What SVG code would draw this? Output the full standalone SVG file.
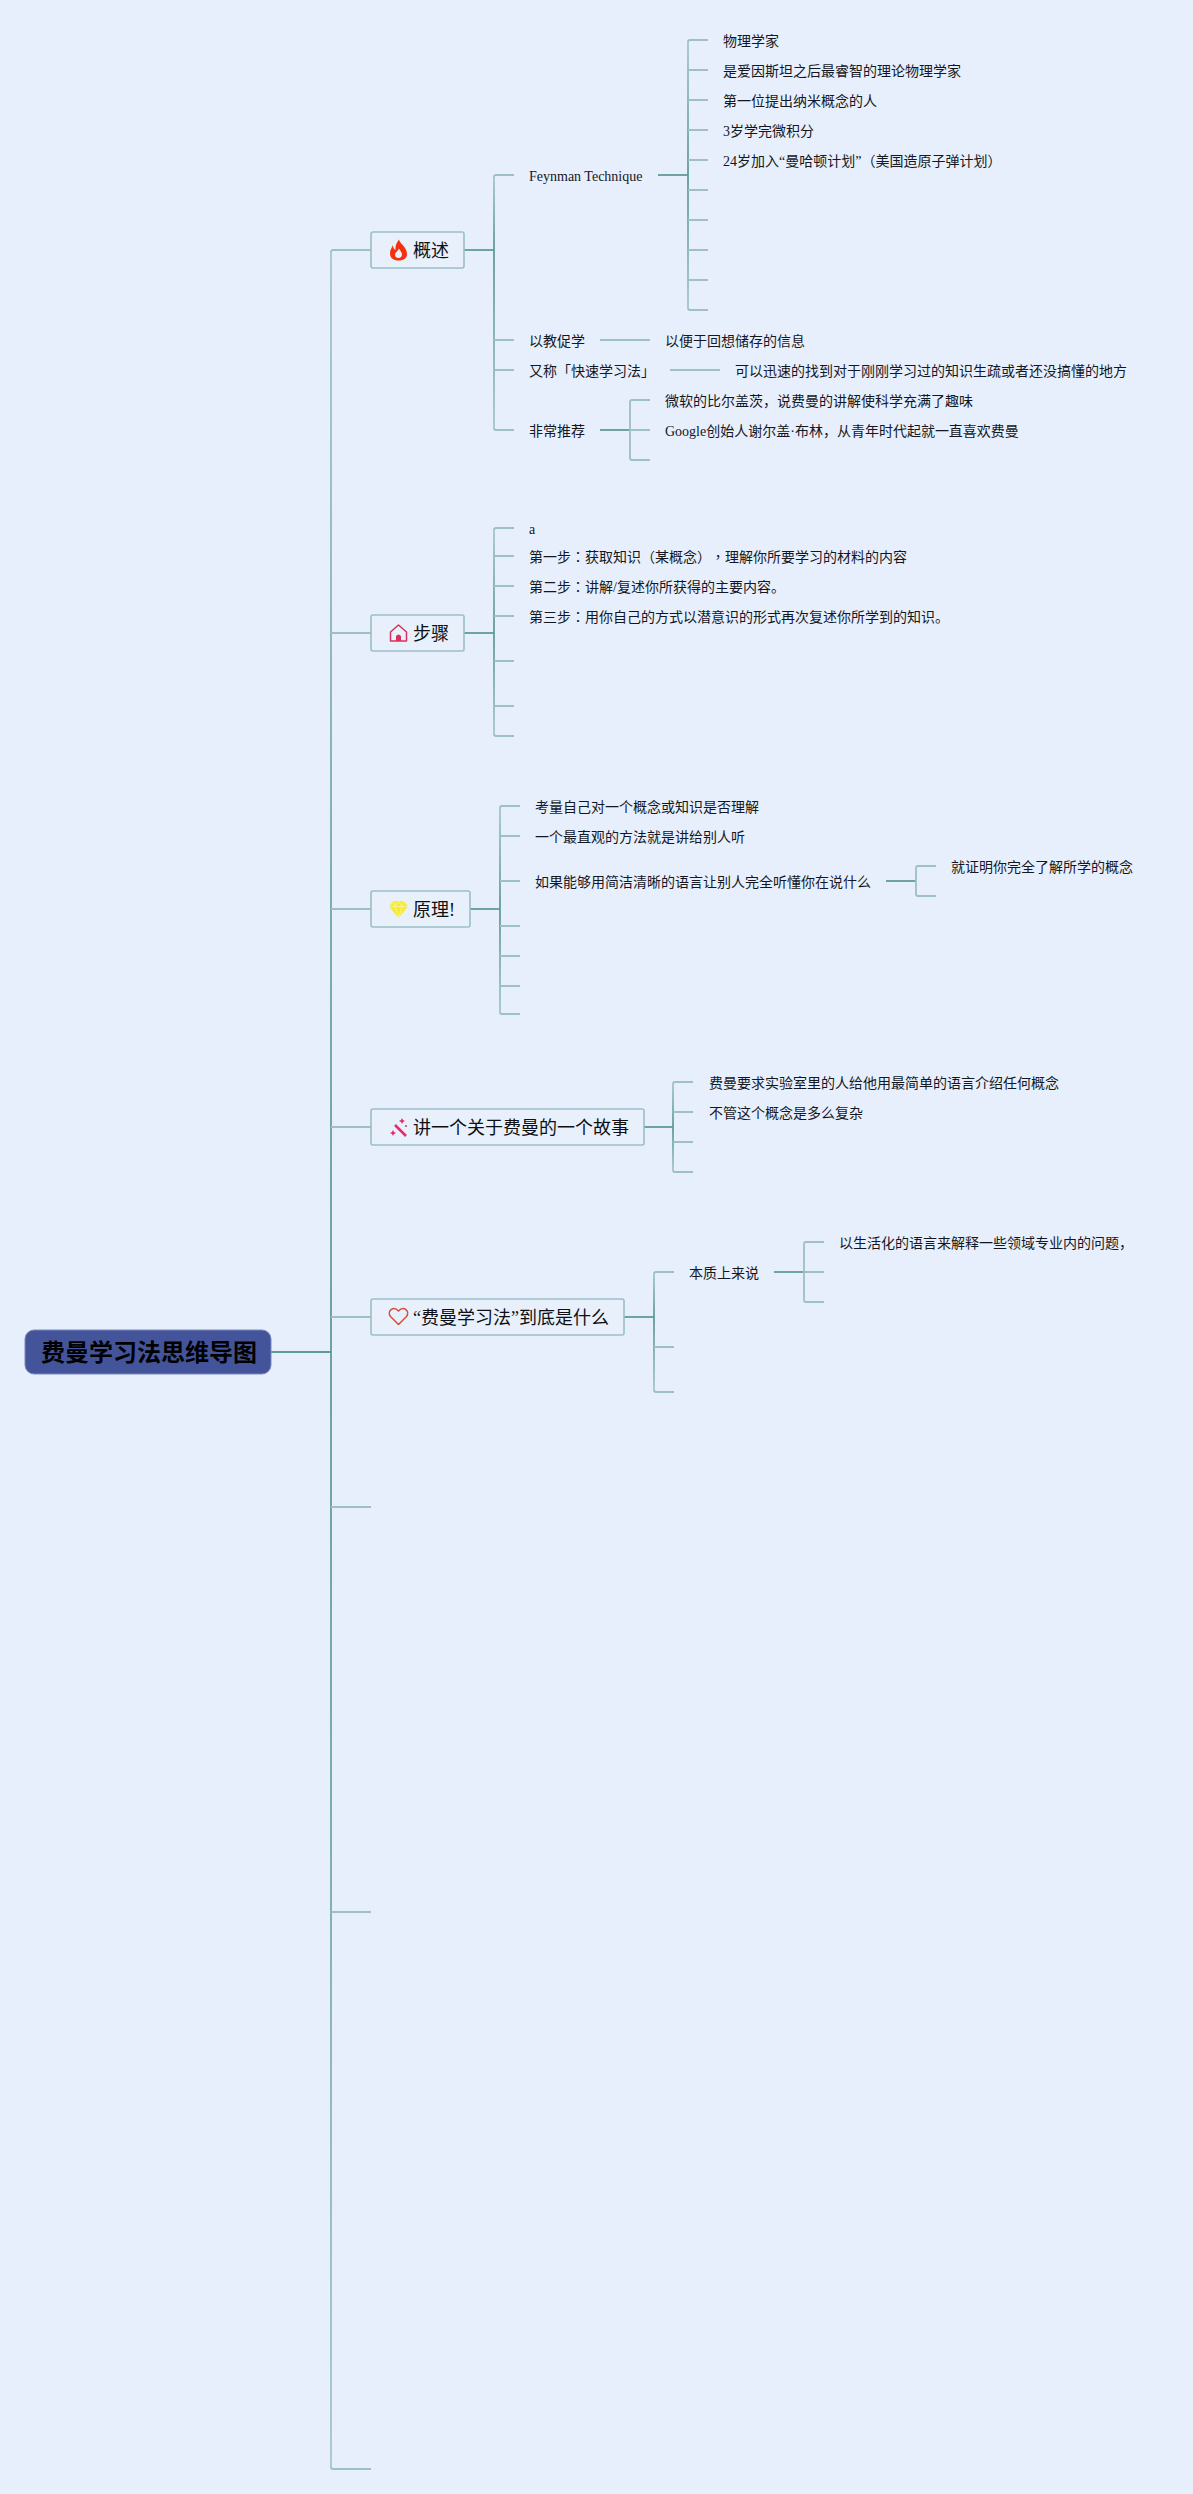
<svg xmlns="http://www.w3.org/2000/svg" width="1193" height="2494" viewBox="0 0 1193 2494">
<style>
text{font-family:"Liberation Serif","Noto Sans CJK SC",sans-serif;fill:#14171f;text-spacing-trim:space-all}
.l{font-size:14px}
.b{font-size:18px;fill:#0d0f14}
.r{font-size:24px;font-weight:700;fill:#000;font-family:"Liberation Sans","Noto Sans CJK SC",sans-serif}
.p{font-family:"Noto Sans CJK TC",sans-serif}
.s{fill:none;stroke:#9dbfc5;stroke-width:1.8}
.m{fill:none;stroke:#5f9a96;stroke-width:1.8}
.v{fill:none;stroke-width:1.8}
.box{fill:#e8f0fc;stroke:#9cbfc6;stroke-width:1.6}
</style>
<defs>
<linearGradient id="g0" gradientUnits="userSpaceOnUse" x1="0" x2="0" y1="250" y2="2469"><stop offset="0" stop-color="#a6c6cc"/><stop offset=".3" stop-color="#6ea6a3"/><stop offset=".4966" stop-color="#5f9a96"/><stop offset=".7" stop-color="#6ea6a3"/><stop offset="1" stop-color="#a6c6cc"/></linearGradient>
<linearGradient id="g1" gradientUnits="userSpaceOnUse" x1="0" x2="0" y1="175" y2="430"><stop offset="0" stop-color="#a6c6cc"/><stop offset=".29" stop-color="#5f9a96"/><stop offset="1" stop-color="#a6c6cc"/></linearGradient>
<linearGradient id="g2" gradientUnits="userSpaceOnUse" x1="0" x2="0" y1="40" y2="310"><stop offset="0" stop-color="#a6c6cc"/><stop offset=".5" stop-color="#5f9a96"/><stop offset="1" stop-color="#a6c6cc"/></linearGradient>
<linearGradient id="g3" gradientUnits="userSpaceOnUse" x1="0" x2="0" y1="528" y2="736"><stop offset="0" stop-color="#a6c6cc"/><stop offset=".5" stop-color="#5f9a96"/><stop offset="1" stop-color="#a6c6cc"/></linearGradient>
<linearGradient id="g4" gradientUnits="userSpaceOnUse" x1="0" x2="0" y1="806" y2="1014"><stop offset="0" stop-color="#a6c6cc"/><stop offset=".5" stop-color="#5f9a96"/><stop offset="1" stop-color="#a6c6cc"/></linearGradient>
<linearGradient id="g5" gradientUnits="userSpaceOnUse" x1="0" x2="0" y1="1082" y2="1172"><stop offset="0" stop-color="#a6c6cc"/><stop offset=".5" stop-color="#5f9a96"/><stop offset="1" stop-color="#a6c6cc"/></linearGradient>
<linearGradient id="g6" gradientUnits="userSpaceOnUse" x1="0" x2="0" y1="1272" y2="1392"><stop offset="0" stop-color="#a6c6cc"/><stop offset=".375" stop-color="#5f9a96"/><stop offset="1" stop-color="#a6c6cc"/></linearGradient>
</defs>
<rect width="1193" height="2494" fill="#e7effc"/>
<g id="connectors">
<path class="m" d="M271 1352H331"/>
<path class="v" stroke="url(#g0)" d="M331 252V2467"/>
<path class="s" d="M331 252Q331 250 333 250H371M331 633H371M331 909H371M331 1127H371M331 1317H371M331 1507H371M331 1912H371M331 2467Q331 2469 333 2469H371"/>
<path class="m" d="M464 250H494"/>
<path class="v" stroke="url(#g1)" d="M494 177V428"/>
<path class="s" d="M494 177Q494 175 496 175H514M494 340H514M494 370H514M494 428Q494 430 496 430H514"/>
<path class="m" d="M658 175H688"/>
<path class="v" stroke="url(#g2)" d="M688 42V308"/>
<path class="s" d="M688 42Q688 40 690 40H708M688 70H708M688 100H708M688 130H708M688 160H708M688 190H708M688 220H708M688 250H708M688 280H708M688 308Q688 310 690 310H708"/>
<path class="s" d="M600 340H650M670 370H720"/>
<path class="m" d="M600 430H630"/>
<path class="s" d="M650 400H632Q630 400 630 402V458Q630 460 632 460H650M630 430H650"/>
<path class="m" d="M464 633H494"/>
<path class="v" stroke="url(#g3)" d="M494 530V734"/>
<path class="s" d="M494 530Q494 528 496 528H514M494 556H514M494 586H514M494 616H514M494 661H514M494 706H514M494 734Q494 736 496 736H514"/>
<path class="m" d="M470 909H500"/>
<path class="v" stroke="url(#g4)" d="M500 808V1012"/>
<path class="s" d="M500 808Q500 806 502 806H520M500 836H520M500 881H520M500 926H520M500 956H520M500 986H520M500 1012Q500 1014 502 1014H520"/>
<path class="m" d="M886 881H916"/>
<path class="s" d="M936 866H918Q916 866 916 868V894Q916 896 918 896H936"/>
<path class="m" d="M644 1127H673"/>
<path class="v" stroke="url(#g5)" d="M673 1084V1170"/>
<path class="s" d="M673 1084Q673 1082 675 1082H693M673 1112H693M673 1142H693M673 1170Q673 1172 675 1172H693"/>
<path class="m" d="M624 1317H654"/>
<path class="v" stroke="url(#g6)" d="M654 1274V1390"/>
<path class="s" d="M654 1274Q654 1272 656 1272H674M654 1347H674M654 1390Q654 1392 656 1392H674"/>
<path class="m" d="M774 1272H804"/>
<path class="s" d="M824 1242H806Q804 1242 804 1244V1300Q804 1302 806 1302H824M804 1272H824"/>
</g>
<g id="root"><rect x="25" y="1330" width="246" height="44" rx="9" fill="#43549b" stroke="#7c89bc" stroke-width="1"/><text class="r" x="41" y="1361">费曼学习法思维导图</text></g>
<g id="n1"><rect class="box" x="371" y="232" width="93" height="36" rx="2"/>
<path d="M399 239.500C400 244 407 247 407 254C407 258 404 260.500 398.500 260.500C393 260.500 390 258 390 253C390 250 392 247 393 245C393 248 394 249 395.500 250C395 246 397 242 399 239.500ZM398.500 258C400.500 258 402 256.500 402 254.500C402 252.500 400 250.500 399 248.500C398 251 395 252.500 395 255C395 257 396.500 258 398.500 258Z" fill="#f5300e" fill-rule="evenodd"/>
<text class="b" x="413" y="257">概述</text></g>
<g id="n2"><rect class="box" x="371" y="615" width="93" height="36" rx="2"/>
<path d="M390.500 632L398.500 625L406.500 632V641H390.500Z" fill="none" stroke="#d8315b" stroke-width="1.500" stroke-linejoin="round"/><path d="M396 641V636Q398.500 633 401 636V641Z" fill="#d8315b"/>
<text class="b" x="413" y="640">步骤</text></g>
<g id="n3"><rect class="box" x="371" y="891" width="99" height="36" rx="2"/>
<path d="M393 901H404L408 906.500L398.500 918L389 906.500Z" fill="#f5ea3a"/><path d="M389 906.500H408M395 906.500L398.500 918L402 906.500M393 901L395 906.500L398.500 901L402 906.500L404 901" fill="none" stroke="#fbf6b0" stroke-width=".6"/>
<text class="b" x="413" y="916">原理!</text></g>
<g id="n4"><rect class="box" x="371" y="1109" width="273" height="36" rx="2"/>
<path d="M395 1125L406 1136" stroke="#e8286b" stroke-width="2.500" fill="none"/><path d="M402 1118l1 2l2 1l-2 1l-1 2l-1-2l-2-1l2-1ZM393 1130l1 2l2 1l-2 1l-1 2l-1-2l-2-1l2-1Z" fill="#e8286b"/><circle cx="406" cy="1126" r="1" fill="#e8286b"/>
<text class="b" x="413" y="1134">讲一个关于费曼的一个故事</text></g>
<g id="n5"><rect class="box" x="371" y="1299" width="253" height="36" rx="2"/>
<path d="M398.500 1324.500L390.500 1316.500C386.500 1311 393.500 1305.500 398.500 1311C403.500 1305.500 410.500 1311 406.500 1316.500Z" fill="none" stroke="#d94a3a" stroke-width="1.500" stroke-linejoin="round"/>
<text class="b" x="413" y="1324">“费曼学习法”到底是什么</text></g>
<g id="leaf-feynman"><text class="l" x="529" y="181">Feynman Technique</text></g>
<g id="leaf-feynman-items">
<text class="l" x="723" y="46">物理学家</text>
<text class="l" x="723" y="76">是爱因斯坦之后最睿智的理论物理学家</text>
<text class="l" x="723" y="106">第一位提出纳米概念的人</text>
<text class="l" x="723" y="136">3岁学完微积分</text>
<text class="l" x="723" y="166">24岁加入“曼哈顿计划”（美国造原子弹计划）</text>
</g>
<g id="leaf-overview">
<text class="l" x="529" y="346">以教促学</text>
<text class="l" x="665" y="346">以便于回想储存的信息</text>
<text class="l" x="529" y="376">又称「快速学习法」</text>
<text class="l" x="735" y="376">可以迅速的找到对于刚刚学习过的知识生疏或者还没搞懂的地方</text>
<text class="l" x="529" y="436">非常推荐</text>
<text class="l" x="665" y="406">微软的比尔盖茨，说费曼的讲解使科学充满了趣味</text>
<text class="l" x="665" y="436">Google创始人谢尔盖·布林，从青年时代起就一直喜欢费曼</text>
</g>
<g id="leaf-steps">
<text class="l" x="529" y="534">a</text>
<text class="l" x="529" y="562">第一步<tspan class="p">：</tspan>获取知识（某概念）<tspan class="p">，</tspan>理解你所要学习的材料的内容</text>
<text class="l" x="529" y="592">第二步<tspan class="p">：</tspan>讲解/复述你所获得的主要内容。</text>
<text class="l" x="529" y="622">第三步<tspan class="p">：</tspan>用你自己的方式以潜意识的形式再次复述你所学到的知识。</text>
</g>
<g id="leaf-principle">
<text class="l" x="535" y="812">考量自己对一个概念或知识是否理解</text>
<text class="l" x="535" y="842">一个最直观的方法就是讲给别人听</text>
<text class="l" x="535" y="887">如果能够用简洁清晰的语言让别人完全听懂你在说什么</text>
<text class="l" x="951" y="872">就证明你完全了解所学的概念</text>
</g>
<g id="leaf-story">
<text class="l" x="709" y="1088">费曼要求实验室里的人给他用最简单的语言介绍任何概念</text>
<text class="l" x="709" y="1118">不管这个概念是多么复杂</text>
</g>
<g id="leaf-essence">
<text class="l" x="689" y="1278">本质上来说</text>
<text class="l" x="839" y="1248">以生活化的语言来解释一些领域专业内的问题，</text>
</g>
</svg>
